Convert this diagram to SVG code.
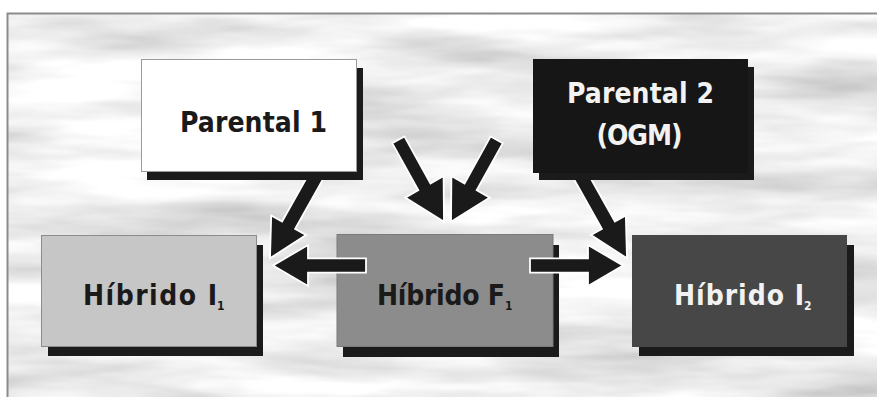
<svg xmlns="http://www.w3.org/2000/svg" width="877" height="397" viewBox="0 0 877 397">
<defs>
<filter id="marble" x="0" y="0" width="100%" height="100%" filterUnits="objectBoundingBox">
<feTurbulence type="fractalNoise" baseFrequency="0.004 0.025" numOctaves="4" seed="7" result="n"/>
<feColorMatrix in="n" type="matrix" values="0.9 0 0 0 0.4  0.9 0 0 0 0.4  0.9 0 0 0 0.4  0 0 0 0 1"/>
</filter>
<style>
.shadow{fill:#1b1b1b}
.lbl{font-family:"DejaVu Sans Condensed","DejaVu Sans",sans-serif;font-stretch:condensed;font-weight:bold;font-size:28px}
.sub{font-family:"DejaVu Sans Condensed","DejaVu Sans",sans-serif;font-weight:bold;font-size:12px}
.dark{fill:#1a1a1a}
.light{fill:#f2f2f2}
.arrow{fill:#1a1a1a;stroke:#ffffff;stroke-width:1.8;stroke-linejoin:miter}
</style>
</defs>
<rect x="0" y="0" width="877" height="397" fill="#ffffff"/>
<rect x="8" y="13" width="869" height="384" fill="#dcdcdc" filter="url(#marble)"/>
<path d="M7.5 397 V13.5 H877" fill="none" stroke="#8c8c8c" stroke-width="2"/>

<g id="connectors-back">
<polygon class="arrow" points="310.3,171.3 323.3,178.7 295.1,228.9 306,235 270,258.3 271.2,215.4 282.1,221.5"/>
<polygon class="arrow" points="586.7,171.3 573.7,178.7 601.9,228.9 591,235 627,258.3 625.8,215.4 614.9,221.5"/>
</g>

<g id="parental1">
<rect class="shadow" x="147" y="68" width="216" height="112"/>
<rect x="141.5" y="59.5" width="215" height="112" fill="#ffffff" stroke="#9a9a9a" stroke-width="1"/>
<text class="lbl dark" x="180" y="132" textLength="147" lengthAdjust="spacing">Parental 1</text>
</g>

<g id="parental2">
<rect class="shadow" x="539" y="67" width="215" height="113"/>
<rect x="533" y="59" width="215" height="114" fill="#161616"/>
<text class="lbl light" x="567" y="103" textLength="147" lengthAdjust="spacing">Parental 2</text>
<text class="lbl light" x="639" y="145" text-anchor="middle" letter-spacing="-1">(OGM)</text>
</g>

<g id="hibrido-i1">
<rect class="shadow" x="48" y="245" width="215" height="111"/>
<rect x="41.5" y="235.5" width="215" height="111" fill="#c6c6c6" stroke="#8c8c8c" stroke-width="1"/>
<text class="lbl dark" x="83" y="305" textLength="134" lengthAdjust="spacing">Híbrido I</text>
<text class="sub dark" x="217" y="310">1</text>
</g>

<g id="hibrido-f1">
<rect class="shadow" x="343" y="245" width="216" height="112"/>
<rect x="337" y="234.5" width="216" height="112" fill="#8c8c8c" stroke="#7a7a7a" stroke-width="1"/>
<text class="lbl dark" x="377" y="304.5" textLength="128" lengthAdjust="spacing">Híbrido F</text>
<text class="sub dark" x="505" y="310">1</text>
</g>

<g id="hibrido-i2">
<rect class="shadow" x="639" y="245" width="215" height="111"/>
<rect x="632" y="235" width="215" height="112" fill="#474747"/>
<text class="lbl light" x="674" y="305" textLength="130" lengthAdjust="spacing">Híbrido I</text>
<text class="sub light" x="804" y="310">2</text>
</g>

<g id="connectors">
<polygon class="arrow" points="392.2,143.2 404.4,136.4 430.5,183.4 443.6,176 444,221.7 405.2,197.6 418.3,190.2"/>
<polygon class="arrow" points="502.8,143.2 490.6,136.4 464.5,183.4 451.4,176 451,221.7 489.8,197.6 476.7,190.2"/>
<polygon class="arrow" points="366,258.3 308,258.3 308,245 273,265.5 308,286 308,272.7 366,272.7"/>
<polygon class="arrow" points="530,258.3 588,258.3 588,245 623,265.5 588,286 588,272.7 530,272.7"/>
</g>
</svg>
